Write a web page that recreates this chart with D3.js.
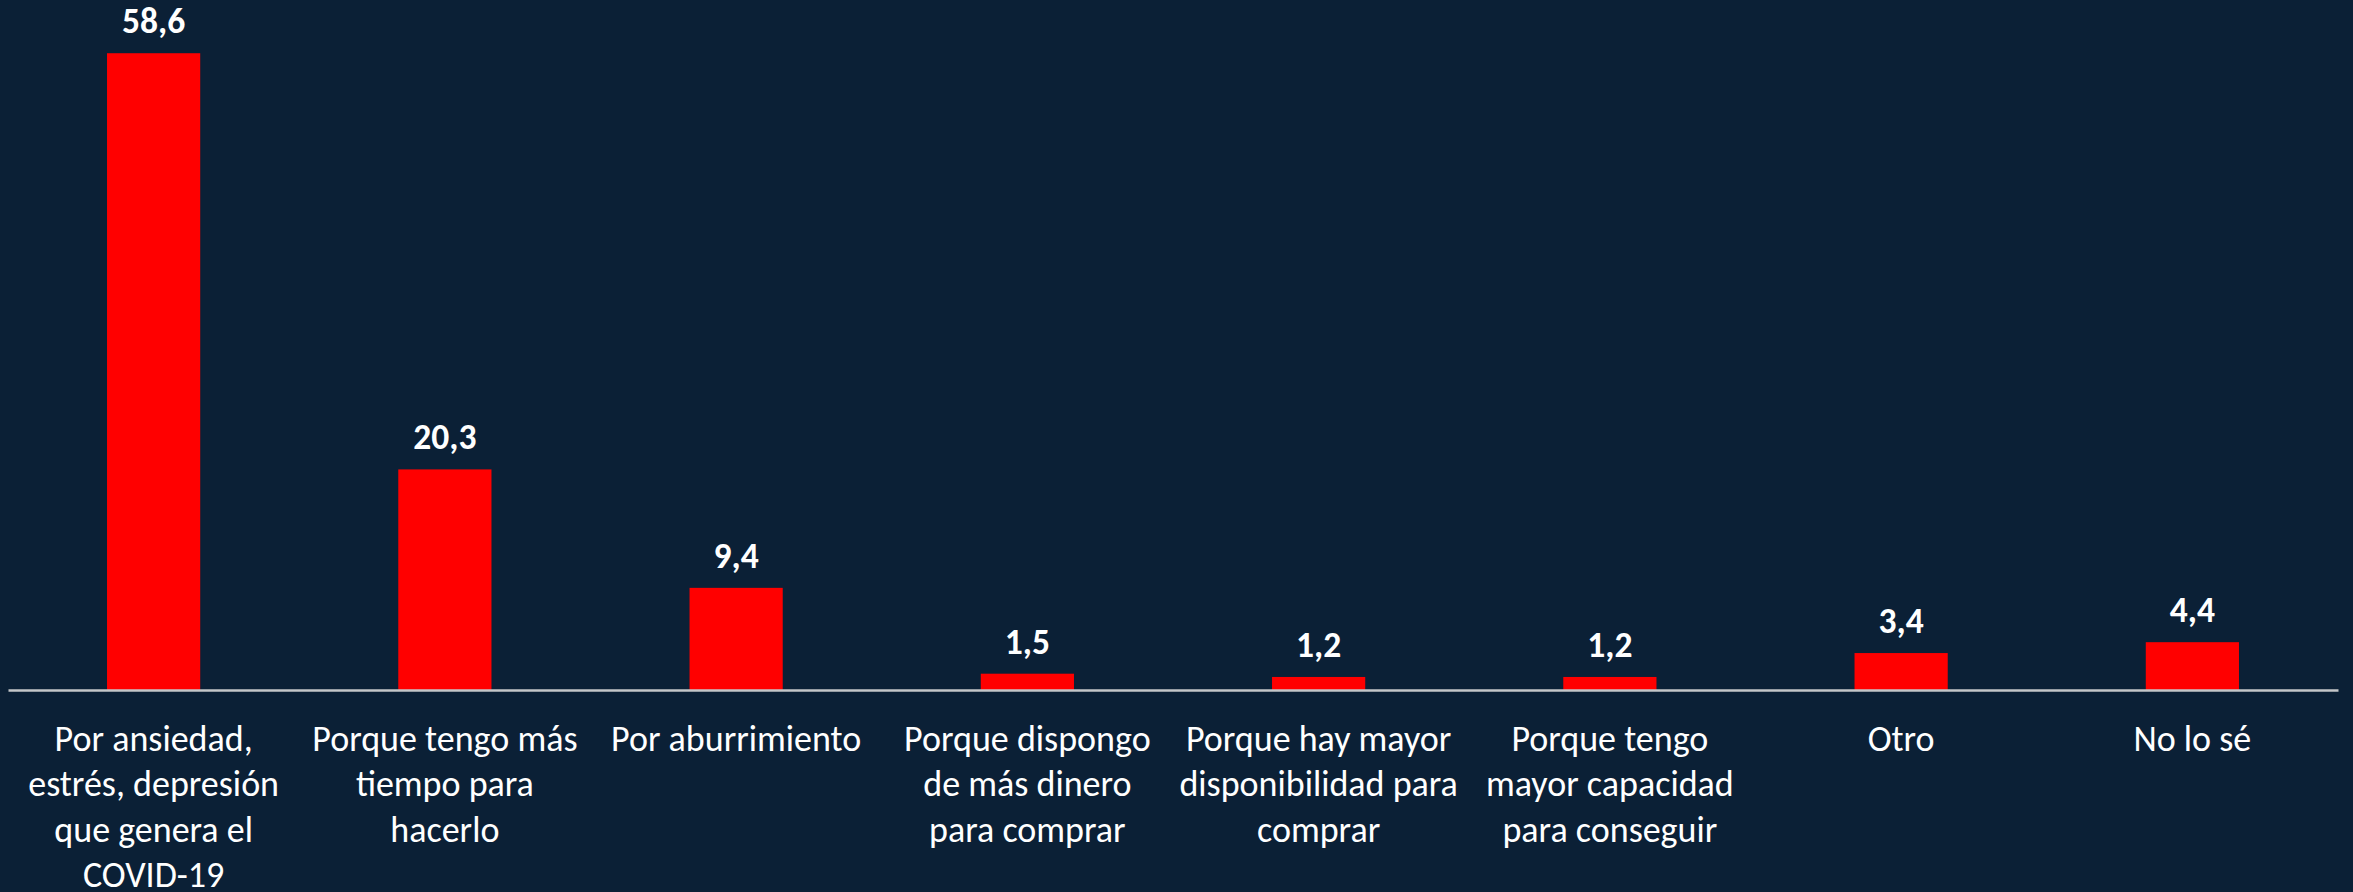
<!DOCTYPE html>
<html>
<head>
<meta charset="utf-8">
<script src="https://cdn.jsdelivr.net/npm/d3@7/dist/d3.min.js"></script>
<style>
  html, body { margin: 0; padding: 0; background: #0b2036; }
  svg { display: block; }
</style>
</head>
<body>
<svg id="chart" width="2353" height="892"></svg>
<script>
const categories = [
  "Por ansiedad, estrés, depresión que genera el COVID-19",
  "Porque tengo más tiempo para hacerlo",
  "Por aburrimiento",
  "Porque dispongo de más dinero para comprar",
  "Porque hay mayor disponibilidad para comprar",
  "Porque tengo mayor capacidad para conseguir",
  "Otro",
  "No lo sé"
];
const categoryLines = [
  ["Por ansiedad,", "estrés, depresión", "que genera el", "COVID-19"],
  ["Porque tengo más", "tiempo para", "hacerlo"],
  ["Por aburrimiento"],
  ["Porque dispongo", "de más dinero", "para comprar"],
  ["Porque hay mayor", "disponibilidad para", "comprar"],
  ["Porque tengo", "mayor capacidad", "para conseguir"],
  ["Otro"],
  ["No lo sé"]
];
const values = [58.6, 20.3, 9.4, 1.5, 1.2, 1.2, 3.4, 4.4];

const W = 2353, H = 892;
const svg = d3.select("#chart");
svg.append("rect").attr("width", W).attr("height", H).attr("fill", "#0b2036");

const x = d3.scaleBand()
  .domain(categories)
  .range([8, 2338])
  .paddingInner(0.68)
  .paddingOuter(0.34);

const y = d3.scaleLinear()
  .domain([0, 60])
  .range([690, 38]);

const fmt = v => d3.format(".1f")(v).replace(".", ",");

// bars
svg.append("g").selectAll("rect")
  .data(values)
  .join("rect")
  .attr("x", (d, i) => x(categories[i]))
  .attr("width", x.bandwidth())
  .attr("y", d => y(d))
  .attr("height", d => y(0) - y(d))
  .attr("fill", "#ff0000");

// axis line
const axis = svg.append("g")
  .attr("transform", `translate(0,${y(0)})`)
  .call(d3.axisBottom(x).tickSize(0).tickFormat(""));
axis.select(".domain").attr("stroke", "#c4c6c9").attr("stroke-width", 2.3);

// value labels
svg.append("g").selectAll("text")
  .data(values)
  .join("text")
  .attr("x", (d, i) => x(categories[i]) + x.bandwidth() / 2)
  .attr("y", d => y(d) - 20)
  .attr("text-anchor", "middle")
  .attr("fill", "#ffffff")
  .attr("font-family", "Carlito, Calibri, Lato, sans-serif")
  .attr("font-weight", "bold")
  .attr("font-size", 35.5)
  .text(d => fmt(d));

// category labels
const lab = svg.append("g").selectAll("text")
  .data(categoryLines)
  .join("text")
  .attr("x", (d, i) => x(categories[i]) + x.bandwidth() / 2)
  .attr("y", y(0) + 61)
  .attr("text-anchor", "middle")
  .attr("fill", "#ffffff")
  .attr("font-family", "Carlito, Calibri, Lato, sans-serif")
  .attr("font-size", 36);
lab.each(function(lines, i) {
  const t = d3.select(this);
  const cx = x(categories[i]) + x.bandwidth() / 2;
  lines.forEach((ln, j) => {
    t.append("tspan").attr("x", cx).attr("dy", j === 0 ? 0 : 45.3).text(ln);
  });
});
</script>
</body>
</html>
